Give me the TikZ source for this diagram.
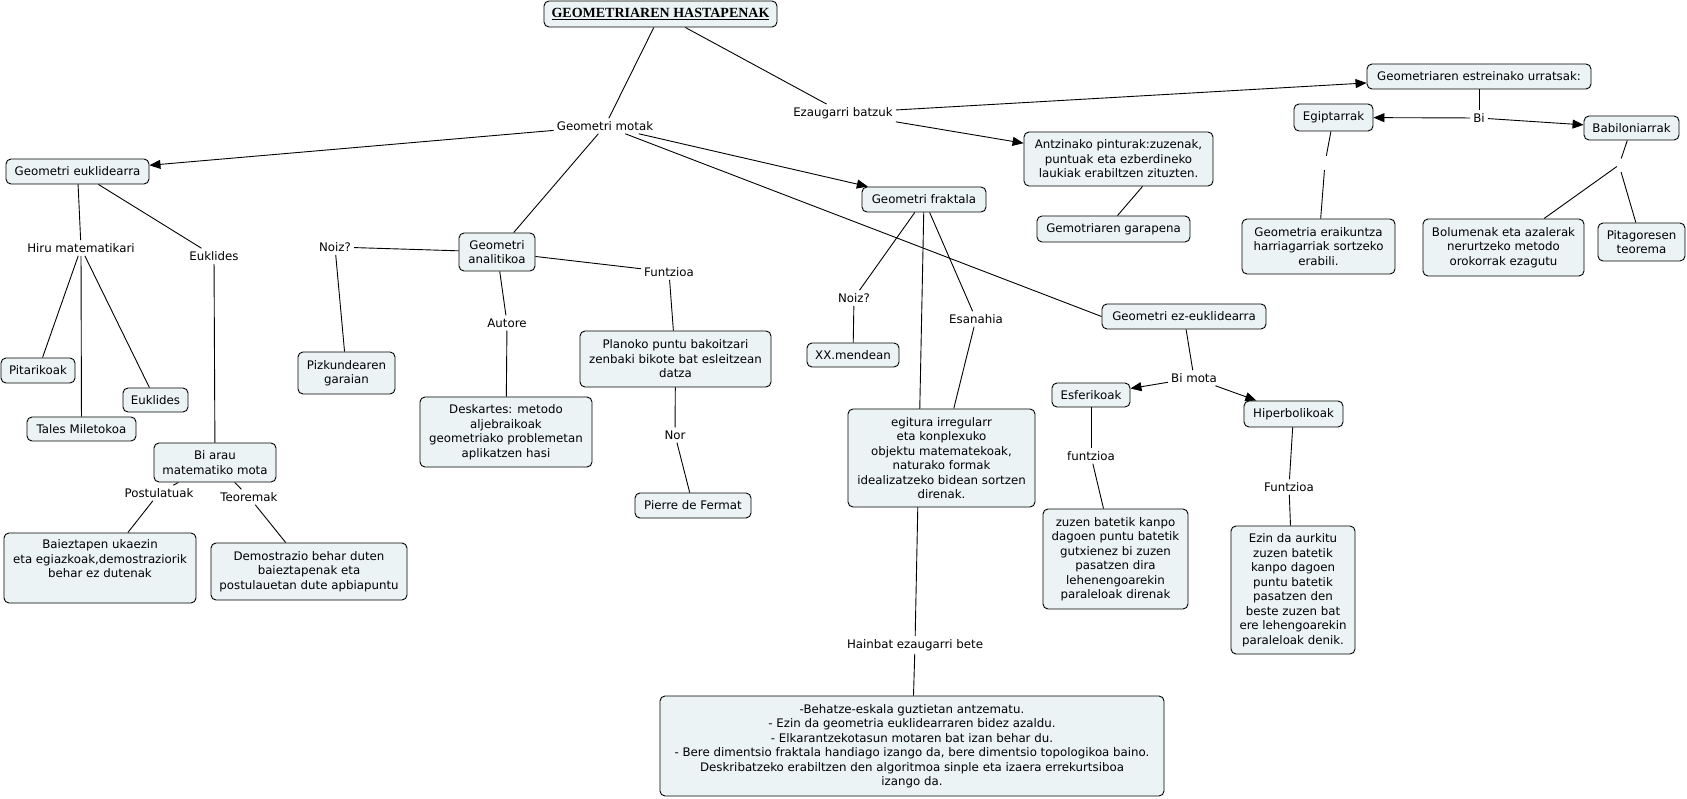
\documentclass[tikz,border=0pt]{standalone}
\usepackage{fontspec}
\setmainfont{DejaVu Sans}
\newfontfamily\titlefont{Liberation Serif}
\usetikzlibrary{arrows.meta,backgrounds}
\definecolor{boxfill}{RGB}{236,243,245}
\tikzset{
  box/.style={draw=black, line width=0.9pt, rounded corners=5pt, fill=boxfill, align=center,
    inner xsep=5pt, inner ysep=3pt, font=\fontsize{11.8}{14.5}\selectfont},
  lbl/.style={inner sep=3pt, align=center, font=\fontsize{11.8}{14.5}\selectfont},
  gap/.style={inner sep=0pt, minimum width=4pt, minimum height=14pt},
  link/.style={draw=black, line width=0.9pt},
  arr/.style={link, -{Triangle[length=11pt,width=9pt]}},
}
\begin{document}
\begin{tikzpicture}[x=1pt,y=-1pt]
\useasboundingbox (0,0) rectangle (1687,799);

% boxes
\node[box, minimum width=233pt, minimum height=26pt, font=\titlefont\bfseries\fontsize{14}{16}\selectfont] (title) at (660.5,14) {\underline{GEOMETRIAREN HASTAPENAK}};
\node[box, minimum width=143pt, minimum height=25pt] (eukl) at (77.5,171.5) {Geometri euklidearra};
\node[box, minimum width=76pt, minimum height=38pt] (anal) at (497,252) {Geometri\\analitikoa};
\node[box, minimum width=124pt, minimum height=25pt] (frak) at (924,199.5) {Geometri fraktala};
\node[box, minimum width=189pt, minimum height=54pt] (anz) at (1118.5,159) {Antzinako pinturak:zuzenak,\\puntuak eta ezberdineko\\laukiak erabiltzen zituzten.};
\node[box, minimum width=153pt, minimum height=26pt] (gar) at (1113.5,229) {Gemotriaren garapena};
\node[box, minimum width=224pt, minimum height=25pt] (est) at (1479,76.5) {Geometriaren estreinako urratsak:};
\node[box, minimum width=79pt, minimum height=27pt] (egip) at (1333.5,117.5) {Egiptarrak};
\node[box, minimum width=95pt, minimum height=24pt] (babi) at (1631.5,128) {Babiloniarrak};
\node[box, minimum width=153pt, minimum height=55pt] (erai) at (1318.5,246.5) {Geometria eraikuntza\\harriagarriak sortzeko\\erabili.};
\node[box, minimum width=161pt, minimum height=57pt] (bolu) at (1503.5,247.5) {Bolumenak eta azalerak\\nerurtzeko metodo\\orokorrak ezagutu};
\node[box, minimum width=87pt, minimum height=38pt] (pita) at (1641.5,242) {Pitagoresen\\teorema};
\node[box, minimum width=74pt, minimum height=25pt] (pitar) at (38,370.5) {Pitarikoak};
\node[box, minimum width=109pt, minimum height=24pt] (tales) at (81.5,429) {Tales Miletokoa};
\node[box, minimum width=65pt, minimum height=24pt] (eukb) at (155.5,400) {Euklides};
\node[box, minimum width=122pt, minimum height=39pt] (biarau) at (215,462.5) {Bi arau\\matematiko mota};
\node[box, minimum width=192pt, minimum height=70pt] (baiez) at (100,568) {Baieztapen ukaezin\\eta egiazkoak,demostraziorik\\behar ez dutenak\\\strut};
\node[box, minimum width=196pt, minimum height=57pt] (demo) at (309,571.5) {Demostrazio behar duten\\baieztapenak eta\\postulauetan dute apbiapuntu};
\node[box, minimum width=97pt, minimum height=42pt] (pizk) at (346.5,373) {Pizkundearen\\garaian};
\node[box, minimum width=172pt, minimum height=70pt] (desk) at (506,432) {Deskartes: metodo\\aljebraikoak\\geometriako problemetan\\aplikatzen hasi};
\node[box, minimum width=191pt, minimum height=56pt] (plan) at (675.5,359) {Planoko puntu bakoitzari\\zenbaki bikote bat esleitzean\\datza};
\node[box, minimum width=116pt, minimum height=25pt] (pier) at (693,505.5) {Pierre de Fermat};
\node[box, minimum width=92pt, minimum height=24pt] (xx) at (853,355) {XX.mendean};
\node[box, minimum width=187pt, minimum height=98pt] (egit) at (941.5,458) {egitura irregularr\\eta konplexuko\\objektu matematekoak,\\naturako formak\\idealizatzeko bidean sortzen\\direnak.};
\node[box, minimum width=164pt, minimum height=25pt] (ezeu) at (1184,316.5) {Geometri ez-euklidearra};
\node[box, minimum width=78pt, minimum height=24pt] (esf) at (1091,395) {Esferikoak};
\node[box, minimum width=99pt, minimum height=26pt] (hip) at (1293.5,414) {Hiperbolikoak};
\node[box, minimum width=145pt, minimum height=100pt] (zuz) at (1115.5,559) {zuzen batetik kanpo\\dagoen puntu batetik\\gutxienez bi zuzen\\pasatzen dira\\lehenengoarekin\\paraleloak direnak};
\node[box, minimum width=124pt, minimum height=128pt] (ezin) at (1293,590) {Ezin da aurkitu\\zuzen batetik\\kanpo dagoen\\puntu batetik\\pasatzen den\\beste zuzen bat\\ere lehengoarekin\\paraleloak denik.};
\node[box, minimum width=504pt, minimum height=100pt] (bot) at (912,746) {-Behatze-eskala guztietan antzematu.\\- Ezin da geometria euklidearraren bidez azaldu.\\- Elkarantzekotasun motaren bat izan behar du.\\- Bere dimentsio fraktala handiago izango da, bere dimentsio topologikoa baino.\\Deskribatzeko erabiltzen den algoritmoa sinple eta izaera errekurtsiboa\\izango da.};

% linking phrases
\node[lbl] (motak) at (605,126) {Geometri motak};
\node[lbl] (ezau) at (843,113) {Ezaugarri batzuk};
\node[lbl] (bi) at (1479,118) {Bi};
\node[gap] (egipE) at (1325,163) {};
\node[gap] (babE) at (1619,165) {};
\node[lbl] (hiru) at (81,248) {Hiru matematikari};
\node[lbl] (euklL) at (214,256) {Euklides};
\node[lbl] (post) at (159,493) {Postulatuak};
\node[lbl] (teor) at (249,497) {Teoremak};
\node[lbl] (noiza) at (335,247) {Noiz?};
\node[lbl] (autore) at (507,323) {Autore};
\node[lbl] (funtz) at (669,272) {Funtzioa};
\node[lbl] (nor) at (675,435) {Nor};
\node[lbl] (noizb) at (854,298) {Noiz?};
\node[lbl] (esan) at (976,319) {Esanahia};
\node[lbl] (hain) at (915,645) {Hainbat ezaugarri bete};
\node[lbl] (bimota) at (1194,378) {Bi mota};
\node[lbl] (funtzb) at (1091,456) {funtzioa};
\node[lbl] (funtzc) at (1289,487) {Funtzioa};

% connectors
\begin{scope}[on background layer]
\draw[link] (title) -- (motak);
\draw[link] (title) -- (ezau);
\draw[arr] (motak) -- (eukl);
\draw[link] (motak) -- (anal);
\draw[arr] (motak) -- (frak);
\draw[link] (motak) -- (ezeu.west);
\draw[arr] (ezau) -- (est);
\draw[arr] (ezau) -- (anz);
\draw[link] ([xshift=24pt]anz.south) -- ([xshift=4pt]gar.north);
\draw[link] (est) -- (bi);
\draw[arr] (bi) -- (egip);
\draw[arr] (bi) -- (babi);
\draw[link] (egip) -- (egipE);
\draw[link] (egipE) -- (erai);
\draw[link] (babi) -- (babE);
\draw[link] (babE) -- (bolu);
\draw[link] (babE) -- (pita);
\draw[link] (eukl) -- (hiru);
\draw[link] (eukl) -- (euklL);
\draw[link] (hiru) -- (pitar);
\draw[link] (hiru) -- (tales);
\draw[link] (hiru) -- (eukb);
\draw[link] (euklL) -- (biarau);
\draw[link] (biarau) -- (post);
\draw[link] (post) -- (baiez);
\draw[link] (biarau) -- (teor);
\draw[link] (teor) -- (demo);
\draw[link] (anal) -- (noiza);
\draw[link] (noiza) -- (pizk);
\draw[link] (anal) -- (autore);
\draw[link] (autore) -- (desk);
\draw[link] (anal) -- (funtz);
\draw[link] (funtz) -- (plan);
\draw[link] (plan) -- (nor);
\draw[link] (nor) -- (pier);
\draw[link] (frak) -- (noizb);
\draw[link] (noizb) -- (xx);
\draw[link] (frak) -- (esan);
\draw[link] (esan) -- (egit);
\draw[link] (frak) -- (hain);
\draw[link] (hain) -- (bot);
\draw[link] (ezeu) -- (bimota);
\draw[arr] (bimota) -- (esf);
\draw[arr] (bimota) -- (hip);
\draw[link] (esf) -- (funtzb);
\draw[link] (funtzb) -- (zuz);
\draw[link] (hip) -- (funtzc);
\draw[link] (funtzc) -- (ezin);
\end{scope}
\end{tikzpicture}
\end{document}
